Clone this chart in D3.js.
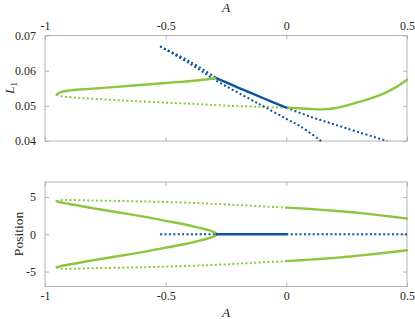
<!DOCTYPE html>
<html><head><meta charset="utf-8">
<script src="https://cdn.jsdelivr.net/npm/d3@7"></script>
<style>
body{margin:0;background:#fff;}
svg text{font-family:"Liberation Serif","Times New Roman",serif;fill:#262626;}
</style></head>
<body><svg id="c" width="415" height="319"></svg>
<script>
// ---- data ----
const xTicks = [-1, -0.5, 0, 0.5];
const xTickLabels = ["-1", "-0.5", "0", "0.5"];
const topYTicks = [0.04, 0.05, 0.06, 0.07];
const topYTickLabels = ["0.04", "0.05", "0.06", "0.07"];
const botYTicks = [-5, 0, 5];
const botYTickLabels = ["-5", "0", "5"];

// top panel (A, L1)
const topGreenSolidLeft = [[-0.952,0.0532],[-0.935,0.0539],[-0.896,0.0544],[-0.8,0.0549],[-0.647,0.0557],[-0.5,0.0565],[-0.371,0.0572],[-0.288,0.0579]];
const topGreenDotted = [[-0.952,0.0532],[-0.938,0.0528],[-0.85,0.0522],[-0.75,0.0518],[-0.647,0.0514],[-0.5,0.0509],[-0.371,0.0505],[-0.232,0.0500],[-0.1,0.0497],[0,0.0495]];
const topGreenSolidRight = [[0,0.0495],[0.05,0.0493],[0.1,0.0491],[0.15,0.0490],[0.2,0.0493],[0.25,0.0501],[0.3,0.0511],[0.35,0.0521],[0.4,0.0534],[0.45,0.0551],[0.5,0.0574]];
const topBlueDottedA = [[-0.523,0.0669],[-0.4,0.0626],[-0.288,0.0578]];
const topBlueSolid = [[-0.288,0.0578],[-0.2,0.0552],[-0.1,0.0523],[0,0.0495]];
const topBlueDottedB = [[0,0.0495],[0.1,0.0469],[0.2,0.0447],[0.3,0.0425],[0.418,0.0400]];
const topBlueDottedC = [[-0.523,0.0669],[-0.4,0.0620],[-0.288,0.0571],[-0.15,0.0519],[-0.085,0.0495],[0,0.0463],[0.06,0.0441],[0.144,0.0400]];

// bottom panel (A, Position)
// solid inner branch: upper end -> fold at A=-0.288 -> lower end
const botGreenSolidFold = [[-0.952,4.42],[-0.935,4.28],[-0.88,3.95],[-0.793,3.44],[-0.7,2.95],[-0.585,2.32],[-0.5,1.80],[-0.419,1.30],[-0.36,0.85],[-0.31,0.42],[-0.288,0],[-0.31,-0.42],[-0.36,-0.85],[-0.419,-1.30],[-0.5,-1.80],[-0.585,-2.32],[-0.7,-2.95],[-0.793,-3.44],[-0.88,-3.95],[-0.935,-4.28],[-0.952,-4.42]];
const botGreenDottedUpper = [[-0.952,4.42],[-0.938,4.55],[-0.8,4.52],[-0.6,4.40],[-0.4,4.22],[-0.267,4.02],[-0.15,3.82],[0,3.57]];
const botGreenSolidUpperRight = [[0,3.57],[0.1,3.38],[0.2,3.15],[0.25,3.01],[0.3,2.86],[0.4,2.50],[0.5,2.10]];
const botGreenDottedLower = [[-0.952,-4.42],[-0.938,-4.58],[-0.8,-4.54],[-0.6,-4.42],[-0.4,-4.24],[-0.267,-4.05],[-0.15,-3.85],[0,-3.60]];
const botGreenSolidLowerRight = [[0,-3.60],[0.1,-3.40],[0.2,-3.16],[0.25,-3.02],[0.3,-2.87],[0.4,-2.52],[0.5,-2.15]];
const botBlueDottedLeft = [[-0.523,0],[-0.288,0]];
const botBlueSolid = [[-0.288,0],[0,0]];
const botBlueDottedRight = [[0,0],[0.5,0]];

// ---- drawing ----
const GREEN = "#8cc63f", BLUE = "#0b52a0", BOX = "#b3b3b3";
const svg = d3.select("#c");
const L = 45, R = 407;
const x = d3.scaleLinear().domain([-1, 0.5]).range([L, R]);
const yTop = d3.scaleLinear().domain([0.04, 0.07]).range([141, 35.5]);
const yBot = d3.scaleLinear().domain([-7, 7]).range([286.5, 182]);
const FS = 12;

function styleAxis(a) {
  a.attr("font-size", null).attr("font-family", null);
  a.select(".domain").remove();
  a.selectAll("line").attr("stroke", BOX);
  a.selectAll("text").attr("font-size", FS).attr("fill", "#262626");
}
function panel(y, yTicks, yLabels, xLabelsTop) {
  const g = svg.append("g");
  const [y0, y1] = y.range();
  g.append("rect").attr("x", L).attr("y", y1).attr("width", R - L).attr("height", y0 - y1)
    .attr("fill", "none").attr("stroke", BOX).attr("stroke-width", 1);
  const tl = 4;
  const fmtX = (d, i) => xTickLabels[i];
  const axB = d3.axisBottom(x).tickValues(xTicks).tickSize(-tl).tickPadding(5).tickFormat(xLabelsTop ? () => "" : fmtX);
  const axT = d3.axisTop(x).tickValues(xTicks).tickSize(-tl).tickPadding(6).tickFormat(xLabelsTop ? fmtX : () => "");
  const axL = d3.axisLeft(y).tickValues(yTicks).tickSize(-tl).tickPadding(9).tickFormat((d, i) => yLabels[i]);
  const axR = d3.axisRight(y).tickValues(yTicks).tickSize(-tl).tickFormat(() => "");
  [[axB, `translate(0,${y0})`], [axT, `translate(0,${y1})`], [axL, `translate(${L},0)`], [axR, `translate(${R},0)`]].forEach(([ax, t]) => {
    styleAxis(g.append("g").attr("transform", t).call(ax));
  });
  return g;
}
panel(yTop, topYTicks, topYTickLabels, true);
panel(yBot, botYTicks, botYTickLabels, false);

function draw(g, y, data, color, dotted, width) {
  const line = d3.line().x(d => x(d[0])).y(d => y(d[1])).curve(d3.curveCatmullRom.alpha(0.5));
  const p = g.append("path").datum(data).attr("d", line).attr("fill", "none")
    .attr("stroke", color).attr("stroke-width", width || (dotted ? 2 : 2.4));
  if (dotted) p.attr("stroke-dasharray", "2,2.4");
  else p.attr("stroke-linecap", "round").attr("stroke-linejoin", "round");
}
svg.append("clipPath").attr("id", "ct").append("rect").attr("x", L).attr("y", 35.5).attr("width", R - L + 1).attr("height", 141 - 35.5 + 1);
svg.append("clipPath").attr("id", "cb").append("rect").attr("x", L).attr("y", 182).attr("width", R - L + 1).attr("height", 286.5 - 182 + 1);
const pT = svg.append("g").attr("clip-path", "url(#ct)");
const pB = svg.append("g").attr("clip-path", "url(#cb)");

draw(pT, yTop, topGreenDotted, GREEN, true);
draw(pT, yTop, topBlueDottedC, BLUE, true);
draw(pT, yTop, topBlueDottedA, BLUE, true);
draw(pT, yTop, topBlueDottedB, BLUE, true);
draw(pT, yTop, topGreenSolidLeft, GREEN, false);
draw(pT, yTop, topGreenSolidRight, GREEN, false);
draw(pT, yTop, topBlueSolid, BLUE, false);

draw(pB, yBot, botGreenDottedUpper, GREEN, true);
draw(pB, yBot, botGreenDottedLower, GREEN, true);
draw(pB, yBot, botBlueDottedLeft, BLUE, true);
draw(pB, yBot, botBlueDottedRight, BLUE, true);
draw(pB, yBot, botGreenSolidFold, GREEN, false);
draw(pB, yBot, botGreenSolidUpperRight, GREEN, false);
draw(pB, yBot, botGreenSolidLowerRight, GREEN, false);
draw(pB, yBot, botBlueSolid, BLUE, false, 2.6);

// axis labels
svg.append("text").attr("x", 226).attr("y", 12).attr("text-anchor", "middle")
  .attr("font-size", 13.5).attr("font-style", "italic").text("A");
svg.append("text").attr("x", 226).attr("y", 317).attr("text-anchor", "middle")
  .attr("font-size", 13.5).attr("font-style", "italic").text("A");
const ly = svg.append("text").attr("transform", "translate(14,88) rotate(-90)").attr("text-anchor", "middle").attr("font-size", 13.5);
ly.append("tspan").attr("font-style", "italic").text("L");
ly.append("tspan").attr("font-size", 9).attr("dy", 3).text("1");
svg.append("text").attr("transform", "translate(23,234) rotate(-90)").attr("text-anchor", "middle")
  .attr("font-size", 13.5).text("Position");
</script></body></html>
